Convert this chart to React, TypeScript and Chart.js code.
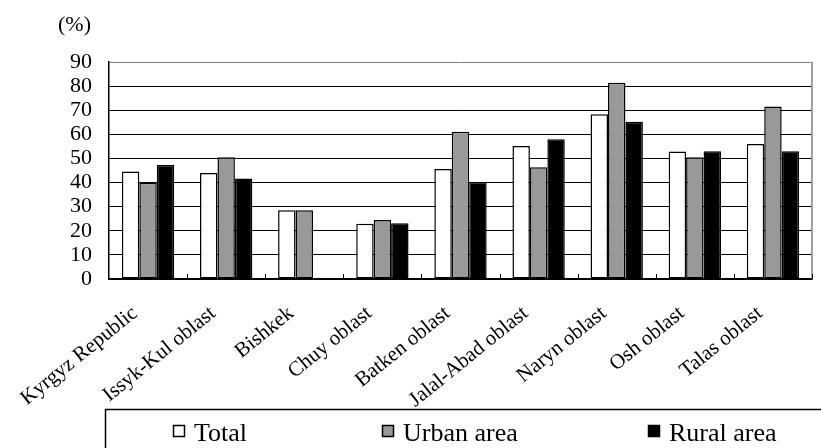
import React, { useEffect, useRef } from "react";
import { Chart, registerables } from "chart.js";

Chart.register(...registerables);

const categories = [
  "Kyrgyz Republic",
  "Issyk-Kul oblast",
  "Bishkek",
  "Chuy oblast",
  "Batken oblast",
  "Jalal-Abad oblast",
  "Naryn oblast",
  "Osh oblast",
  "Talas oblast",
];
const seriesLabels = ["Total", "Urban area", "Rural area"];
const totalValues = [44.6, 44.0, 28.5, 22.9, 45.6, 55.2, 68.3, 52.9, 56.0];
const urbanValues = [39.9, 50.5, 28.5, 24.5, 61.1, 46.3, 81.4, 50.5, 71.5];
const ruralValues = [47.3, 41.7, null, 23.1, 40.2, 58.0, 65.2, 53.0, 53.0];
const yMin = 0;
const yMax = 90;
const yStep = 10;
const unitLabel = "(%)";

const SERIF = '"Liberation Serif", "Times New Roman", serif';

const decorPlugin = {
  id: "decor",
  afterDraw(chart: any) {
    const { ctx, chartArea } = chart;
    const { left, right, top, bottom } = chartArea;
    ctx.save();
    // right frame
    ctx.strokeStyle = "#808080";
    ctx.lineWidth = 1.5;
    ctx.beginPath();
    ctx.moveTo(right, top);
    ctx.lineTo(right, bottom);
    ctx.stroke();
    // category boundary tick marks (inside)
    ctx.strokeStyle = "#000";
    ctx.lineWidth = 1;
    const n = chart.data.labels.length;
    const w = (right - left) / n;
    for (let i = 1; i <= n; i++) {
      const px = Math.round(left + i * w) + 0.5;
      ctx.beginPath();
      ctx.moveTo(px, bottom);
      ctx.lineTo(px, bottom - 5);
      ctx.stroke();
    }
    // unit label
    ctx.fillStyle = "#000";
    ctx.font = `22px ${SERIF}`;
    ctx.textAlign = "left";
    ctx.textBaseline = "middle";
    ctx.fillText(unitLabel, 58, 25);
    // legend frame
    ctx.strokeStyle = "#000";
    ctx.lineWidth = 1.5;
    ctx.strokeRect(105.5, 409.5, 800, 100);
    // legend items
    const xs = [173, 382, 648];
    chart.data.datasets.forEach((ds: any, i: number) => {
      const x = xs[i];
      ctx.fillStyle = ds.backgroundColor;
      ctx.fillRect(x, 425, 12, 12);
      ctx.strokeStyle = "#000";
      ctx.lineWidth = 1.5;
      ctx.strokeRect(x + 0.5, 425.5, 11, 11);
      ctx.fillStyle = "#000";
      ctx.font = `26px ${SERIF}`;
      ctx.textAlign = "left";
      ctx.textBaseline = "alphabetic";
      ctx.fillText(ds.label, x + 21, 441);
    });
    ctx.restore();
  },
};

export default function App() {
  const canvasRef = useRef<HTMLCanvasElement | null>(null);

  useEffect(() => {
    document.body.style.margin = "0";
    const canvas = canvasRef.current;
    if (!canvas) return;
    const chart = new Chart(canvas, {
      type: "bar",
      data: {
        labels: categories,
        datasets: [
          {
            label: seriesLabels[0],
            data: totalValues,
            backgroundColor: "#ffffff",
          },
          {
            label: seriesLabels[1],
            data: urbanValues,
            backgroundColor: "#999999",
          },
          {
            label: seriesLabels[2],
            data: ruralValues as any,
            backgroundColor: "#000000",
          },
        ].map((d) => ({
          ...d,
          borderColor: "#000",
          borderWidth: 1.5,
          borderSkipped: false,
          categoryPercentage: 0.67,
          barPercentage: 1.0,
        })),
      },
      options: {
        animation: false,
        responsive: false,
        maintainAspectRatio: false,
        layout: { padding: { top: 62, right: 9, left: 0, bottom: 0 } },
        plugins: {
          legend: { display: false },
          tooltip: { enabled: false },
          title: { display: false },
        },
        scales: {
          x: {
            grid: { display: false, drawTicks: false },
            border: { color: "#000", width: 1.5 },
            ticks: {
              minRotation: 39,
              maxRotation: 39,
              autoSkip: false,
              padding: 22,
              labelOffset: -13,
              color: "#000",
              font: { family: SERIF, size: 21 },
            },
            afterFit: (scale: any) => {
              scale.height = 169;
            },
          },
          y: {
            min: yMin,
            max: yMax,
            ticks: {
              stepSize: yStep,
              autoSkip: false,
              padding: 17,
              color: "#000",
              font: { family: SERIF, size: 22 },
            },
            grid: {
              drawTicks: false,
              color: (c: any) => (c.tick && c.tick.value === yMax ? "#808080" : "#000"),
              lineWidth: 1,
            },
            border: { color: "#000", width: 1.5 },
            afterFit: (scale: any) => {
              scale.width = 109;
            },
          },
        },
      },
      plugins: [decorPlugin],
    });
    return () => chart.destroy();
  }, []);

  return (
    <div style={{ position: "absolute", left: 0, top: 0, width: 821, height: 448, background: "#fff" }}>
      <canvas ref={canvasRef} width={821} height={448} />
    </div>
  );
}
